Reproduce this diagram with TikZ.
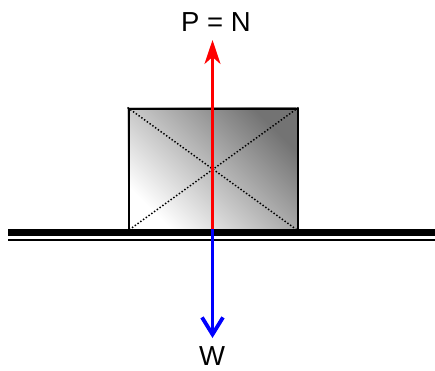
\documentclass[tikz,border=0pt]{standalone}
\usepackage{fontspec}
\setmainfont{Liberation Sans}
\usetikzlibrary{arrows.meta}
\begin{document}
\begin{tikzpicture}[x=1pt,y=-1pt,
  lbl/.style={font=\fontsize{27.5}{32}\selectfont, inner sep=0pt},
  ground/.style={draw=black, line width=7pt},
  groundthin/.style={draw=black, line width=1.7pt},
  diag/.style={line width=1.5pt, dash pattern=on 1.4pt off 2pt},
  force up/.style={draw=red, line width=2.6pt, -{Stealth[length=24pt,width=16pt,inset=7pt]}},
  force down/.style={draw=blue, line width=3.8pt, -{Straight Barb[length=17pt,width=21pt]}}]
\useasboundingbox (0,0) rectangle (435,370);
% block
\path[shading=axis, top color=gray!90!black, bottom color=white, shading angle=-45]
  (127.5,107.5) rectangle (296.5,229);
\node[draw=black, line width=2pt, minimum width=169pt, minimum height=121.5pt, inner sep=0pt, anchor=north west] (box) at (127.5,107.5) {};
\draw[diag] (box.north west) -- (box.south east);
\draw[diag] (box.north east) -- (box.south west);
% ground
\coordinate (gl) at (8,232.5);
\coordinate (gr) at (435,232.5);
\coordinate (tl) at (8,240);
\coordinate (tr) at (435,240);
\draw[ground] (gl) -- (gr);
\draw[groundthin] (tl) -- (tr);
% labels
\node[lbl] (P) at (216,22) {P = N};
\node[lbl] (W) at (212,356) {W};
\coordinate (ctr) at (212.5,168);
\coordinate (base) at (212.5,229);
\coordinate (ptip) at (212.5,40);
\coordinate (wtip) at (212.5,338);
\draw[force down] (ctr) -- (wtip);
\draw[force up] (base) -- (ptip);
\end{tikzpicture}
\end{document}
